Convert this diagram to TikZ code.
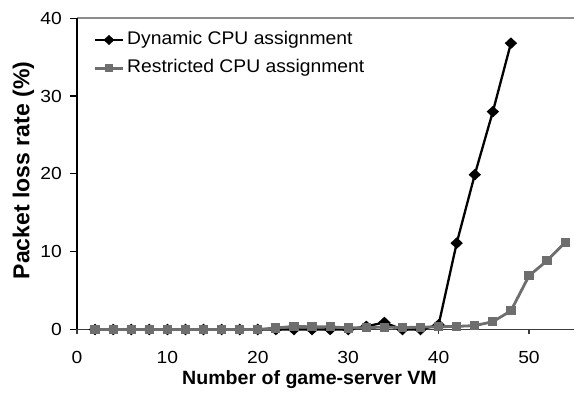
\documentclass[tikz,border=0pt]{standalone}
\usepackage{fontspec}
\usepackage{graphicx}
\setmainfont{Liberation Sans}
\newcommand{\hstretch}[2]{\scalebox{#1}[1]{#2}}
\definecolor{resgray}{HTML}{6E6E6E}
\definecolor{topgray}{HTML}{8C8C8C}
\definecolor{axisgray}{HTML}{3C3C3C}
\tikzset{
  ticklabel/.style={inner sep=0pt, font=\fontsize{17.5}{20}\selectfont},
  legendtext/.style={inner sep=0pt, anchor=base west, font=\fontsize{18.3}{21}\selectfont},
  dynline/.style={black, line width=2.3pt, line join=round},
  resline/.style={resgray, line width=2.8pt, line join=round},
}
\newcommand{\diamondmark}[2]{\fill[black] (#1,#2) ++(-6.2pt,0) -- ++(6.2pt,5.8pt) -- ++(6.2pt,-5.8pt) -- ++(-6.2pt,-5.8pt) -- cycle;}
\newcommand{\squaremark}[2]{\fill[resgray] (#1,#2) ++(-4.6pt,-4.6pt) rectangle ++(9.2pt,9.2pt);}
\begin{document}
\begin{tikzpicture}[x=1pt,y=1pt]
\useasboundingbox (0,0) rectangle (574,394);
\fill[white] (0,0) rectangle (574,394);

% data area: x in VMs, y in percent
\begin{scope}[shift={(77pt,64.5pt)}, x=9.04pt, y=7.78pt]
  % frame and axes
  \draw[topgray, line width=1.6pt] (0,40) -- (55,40);
  \draw[axisgray, line width=1.6pt] (0,0) -- (55,0);
  \draw[black, line width=1.3pt] (0,0) -- (0,40);
  \foreach \v in {0,10,...,40} {
    \draw[black, line width=1.2pt] (0,\v) -- ++(-7pt,0);
    \node[ticklabel, anchor=east, xshift=-15pt] at (0,\v) {\hstretch{1.1}{\v}};
  }
  \foreach \v in {0,10,...,50} {
    \draw[axisgray, line width=1.2pt] (\v,0) -- ++(0,-5pt);
    \node[ticklabel, anchor=center, yshift=-27.5pt] at (\v,0) {\hstretch{1.1}{\v}};
  }

  % dynamic CPU assignment
  \draw[dynline] plot coordinates {(2,0) (4,0) (6,0) (8,0) (10,0) (12,0) (14,0) (16,0) (18,0) (20,0) (22,0) (24,0) (26,0) (28,0) (30,0) (32,0.4) (34,0.9) (36,0) (38,0) (40,0.6) (42,11.1) (44,19.9) (46,28.0) (48,36.8)};
  \foreach \x/\y in {2/0,4/0,6/0,8/0,10/0,12/0,14/0,16/0,18/0,20/0,22/0,24/0,26/0,28/0,30/0,32/0.4,34/0.9,36/0,38/0,40/0.6,42/11.1,44/19.9,46/28.0,48/36.8}
    {\diamondmark{\x}{\y}}

  % restricted CPU assignment
  \draw[resline] plot coordinates {(2,0) (4,0) (6,0) (8,0) (10,0) (12,0) (14,0) (16,0) (18,0) (20,0) (22,0.2) (24,0.4) (26,0.35) (28,0.35) (30,0.2) (32,0.25) (34,0.3) (36,0.25) (38,0.3) (40,0.35) (42,0.4) (44,0.5) (46,1.0) (48,2.4) (50,6.9) (52,8.85) (54,11.2)};
  \foreach \x/\y in {2/0,4/0,6/0,8/0,10/0,12/0,14/0,16/0,18/0,20/0,22/0.2,24/0.4,26/0.35,28/0.35,30/0.2,32/0.25,34/0.3,36/0.25,38/0.3,40/0.35,42/0.4,44/0.5,46/1.0,48/2.4,50/6.9,52/8.85,54/11.2}
    {\squaremark{\x}{\y}}
\end{scope}

% legend
\coordinate (l1a) at (95,354);
\coordinate (l1b) at (123,354);
\coordinate (l2a) at (95,325.7);
\coordinate (l2b) at (123,325.7);
\draw[dynline] (l1a) -- (l1b);
\fill[black] (109,354) ++(-5.5pt,0) -- ++(5.5pt,5pt) -- ++(5.5pt,-5pt) -- ++(-5.5pt,-5pt) -- cycle;
\draw[resline] (l2a) -- (l2b);
\fill[resgray] (109,325.7) ++(-4pt,-4pt) rectangle ++(8pt,8pt);
\node[legendtext] (t1) at (127,349.5) {\hstretch{1.055}{Dynamic CPU assignment}};
\node[legendtext] (t2) at (127,321.5) {\hstretch{1.055}{Restricted CPU assignment}};

% axis titles
\node[inner sep=0pt, anchor=base, font=\bfseries\fontsize{19.2}{23}\selectfont] (xt) at (309.5,9.5) {\hstretch{1.02}{Number of game-server VM}};
\node[inner sep=0pt, anchor=base, rotate=90, font=\bfseries\fontsize{23}{27}\selectfont] (yt) at (29.5,223.5) {Packet loss rate (\%)};
\end{tikzpicture}
\end{document}
